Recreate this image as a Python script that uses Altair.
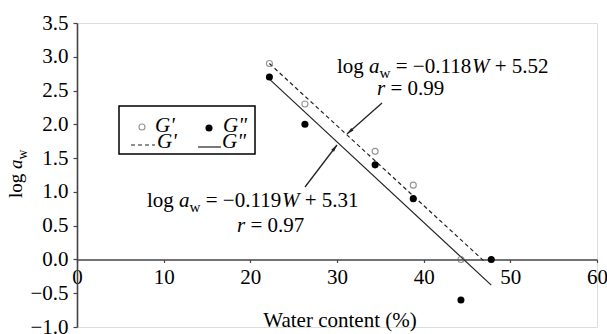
import altair as alt
import pandas as pd
import math

# ---------------- data ----------------
water_Gp = [22.2, 26.3, 34.4, 38.8, 44.3]
log_aw_Gp = [2.9, 2.3, 1.6, 1.1, 0.0]
water_Gpp = [22.2, 26.3, 34.4, 38.8, 44.3, 47.8]
log_aw_Gpp = [2.7, 2.0, 1.4, 0.9, -0.6, 0.0]
fit_Gp_x = [22.2, 47.1]
fit_Gp_y = [2.90, -0.04]
fit_Gpp_x = [22.2, 47.8]
fit_Gpp_y = [2.67, -0.38]
x_ticks = [0, 10, 20, 30, 40, 50, 60]
y_ticks = [-1.0, -0.5, 0.0, 0.5, 1.0, 1.5, 2.0, 2.5, 3.0, 3.5]
eq_Gp = ["log", "a", "w", "= \u22120.118", "W", "+ 5.52"]
r_Gp = ["r", "= 0.99"]
eq_Gpp = ["log", "a", "w", "= \u22120.119", "W", "+ 5.31"]
r_Gpp = ["r", "= 0.97"]

# ---------------- layout ----------------
FONT = "Liberation Serif"
W, H = 520, 304
XD = [0, 60]
YD = [-1.0, 3.5]
FS = 21
INK = "#222222"
SP = 0.25  # em width of a space, used as gap before segments

one = pd.DataFrame({"k": [0]})

# Times metrics (em) for placing rich-text segments
WID = {" ": 0.25, "l": 0.278, "o": 0.5, "g": 0.5, "a": 0.5, "w": 0.722,
       "=": 0.564, "\u2212": 0.564, "+": 0.564, ".": 0.25, "W": 0.833,
       "r": 0.389, "G": 0.722, "'": 0.18, '"': 0.408}
for d in "0123456789":
    WID[d] = 0.5


def tw(s, size):
    return sum(WID.get(c, 0.5) for c in s) * size


def txt(s, x, y, size=FS, style="normal", dx=0, dy=0, angle=None, align="left"):
    kw = dict(font=FONT, fontSize=size, fontStyle=style, align=align,
              baseline="alphabetic", color="black", dx=dx, dy=dy)
    if angle is not None:
        kw["angle"] = angle
    return alt.Chart(one).mark_text(**kw).encode(
        x=alt.value(x), y=alt.value(y), text=alt.value(s))


def equation(parts, x, y, size=FS, angle=None):
    # parts: log, a(italic), w(sub), rest, W(italic), rest
    styles = ["normal", "italic", "sub", "normal", "italic", "normal"]
    gaps = [0, SP, 0, SP, 0, SP]
    layers = []
    off = 0.0
    for p, st, g in zip(parts, styles, gaps):
        if not p:
            continue
        off += g * size
        if st == "sub":
            sz = size * 0.72
            layers.append(txt(p, x, y, sz, "normal", dx=off, dy=size * 0.24, angle=angle))
            off += tw(p, sz)
        else:
            layers.append(txt(p, x, y, size, st, dx=off, angle=angle))
            off += tw(p, size)
    return layers


def rline(parts, x, y, size=FS):
    return [txt(parts[0], x, y, size, "italic"),
            txt(parts[1], x, y, size, "normal", dx=tw(parts[0], size) + SP * size)]


xscale = alt.Scale(domain=XD, nice=False, zero=False)
yscale = alt.Scale(domain=YD, nice=False, zero=False)
x_offset = -H * (0 - YD[0]) / (YD[1] - YD[0])

xaxis = alt.Axis(values=x_ticks, format="d", title=None, offset=x_offset,
                 tickSize=3, labelPadding=4, labelFont=FONT, labelFontSize=FS,
                 labelColor="black", domainColor="#444", domainWidth=1.6,
                 tickColor="#444", tickWidth=1.2, labelFlush=False,
                 labelOverlap=False, grid=False)
yaxis = alt.Axis(values=y_ticks, format=".1f", title=None, tickSize=4,
                 labelPadding=5, labelFont=FONT, labelFontSize=FS,
                 labelColor="black", domainColor="#444", domainWidth=1.6,
                 tickColor="#444", tickWidth=1.2, labelFlush=False,
                 labelOverlap=False, grid=False)

# ---------------- data layers ----------------
fit_df = pd.DataFrame({
    "W": fit_Gp_x + fit_Gpp_x,
    "logaw": fit_Gp_y + fit_Gpp_y,
    "s": ["Gp"] * len(fit_Gp_x) + ["Gpp"] * len(fit_Gpp_x),
})
gp_df = pd.DataFrame({"W": water_Gp, "logaw": log_aw_Gp})
gpp_df = pd.DataFrame({"W": water_Gpp, "logaw": log_aw_Gpp})

X = alt.X("W:Q", scale=xscale, axis=xaxis)
Y = alt.Y("logaw:Q", scale=yscale, axis=yaxis)

line_gp = alt.Chart(fit_df).transform_filter(alt.datum.s == "Gp").mark_line(
    color=INK, strokeWidth=1.2, strokeDash=[4, 3]).encode(x=X, y=Y)
line_gpp = alt.Chart(fit_df).transform_filter(alt.datum.s == "Gpp").mark_line(
    color=INK, strokeWidth=1.2).encode(x=X, y=Y)
pts_gp = alt.Chart(gp_df).mark_point(shape="circle", filled=False, size=36,
                                     stroke="#666", strokeWidth=1.1).encode(x=X, y=Y)
pts_gpp = alt.Chart(gpp_df).mark_circle(size=50, color="black", opacity=1).encode(x=X, y=Y)

# ---------------- annotations (pixel positions in plot area) ----------------
ARROW_PATH = "M0,0L0.6,2.4L-0.6,2.4Z"


def arrow(x1, y1, x2, y2):
    rule = alt.Chart(one).mark_rule(color=INK, strokeWidth=1.3).encode(
        x=alt.value(x1), y=alt.value(y1), x2=alt.value(x2), y2=alt.value(y2))
    dx, dy = x2 - x1, y2 - y1
    ang = math.degrees(math.atan2(dx, -dy)) % 360
    head = alt.Chart(one).mark_point(shape=ARROW_PATH, size=36, filled=True,
                                     color=INK, opacity=1, angle=ang).encode(
        x=alt.value(x2), y=alt.value(y2))
    return [rule, head]


ann = []
ann += equation(eq_Gp, 260, 50)
ann += rline(r_Gp, 300, 72)
ann += equation(eq_Gpp, 70, 184)
ann += rline(r_Gpp, 160, 209)
ann += arrow(305, 80, 270, 111)
ann += arrow(228, 164, 260, 122)

# axis titles
ann.append(txt("Water content (%)", 263, 304, FS, align="center"))
ann += equation(["log", "a", "w", "", "", ""], -55, 175, size=19, angle=270)

# legend box
legend = [
    alt.Chart(one).mark_rect(fill="white", stroke="black", strokeWidth=1.5).encode(
        x=alt.value(42), x2=alt.value(178), y=alt.value(83), y2=alt.value(131)),
    alt.Chart(one).mark_point(shape="circle", filled=False, size=36, stroke="#666",
                              strokeWidth=1.1).encode(x=alt.value(65), y=alt.value(104)),
    alt.Chart(one).mark_circle(size=50, color="black", opacity=1).encode(
        x=alt.value(132), y=alt.value(105)),
    alt.Chart(one).mark_rule(color=INK, strokeWidth=1.2, strokeDash=[4, 3]).encode(
        x=alt.value(54), x2=alt.value(78), y=alt.value(122)),
    alt.Chart(one).mark_rule(color=INK, strokeWidth=1.2).encode(
        x=alt.value(121), x2=alt.value(144), y=alt.value(124)),
    txt("G'", 78, 109, FS, "italic"),
    txt("G'", 80, 125, FS, "italic"),
    txt('G"', 146, 109, FS, "italic"),
    txt('G"', 145, 125, FS, "italic"),
]

chart = alt.layer(line_gp, line_gpp, pts_gp, pts_gpp, *legend, *ann).properties(
    width=W, height=H,
    autosize=alt.AutoSizeParams(type="none"),
    padding={"left": 77, "top": 23, "right": 10, "bottom": 7},
).configure_view(stroke=None).configure(background="white")

chart.save("out.html", embed_options={"renderer": "svg", "actions": False})
